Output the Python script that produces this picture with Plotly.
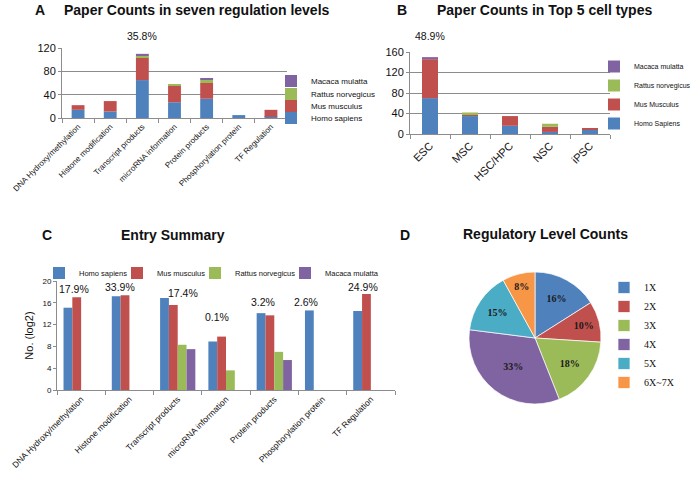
import numpy as np
import plotly.graph_objects as go

W, H = 690, 477
def fx(x):
    return x / W
def fy(y):
    return 1 - y / H

# ---------------- data ----------------
levels = ["DNA Hydroxy/methylation", "Histone modification", "Transcript products",
          "microRNA information", "Protein products", "Phosphorylation protein", "TF Regulation"]
a_homo = [14, 11, 65, 27, 33, 5, 2]
a_mus = [8, 18, 39, 29, 27, 0, 12]
a_rattus = [0, 0, 3, 2, 6, 0, 0]
a_macaca = [0, 0, 3, 0, 2, 0, 0]
a_yticks = [0, 40, 80, 120]
a_note = "35.8%"

cells = ["ESC", "MSC", "HSC/HPC", "NSC", "iPSC"]
b_homo = [70, 35, 16, 4, 8]
b_mus = [76, 4, 19, 10, 2]
b_rattus = [0, 3, 0, 6, 0]
b_macaca = [4, 0, 0, 0, 0]
b_yticks = [0, 40, 80, 120, 160]
b_note = "48.9%"

c_homo = [15.1, 17.2, 16.9, 8.9, 14.1, 14.6, 14.5]
c_mus = [17.0, 17.4, 15.6, 9.8, 13.7, None, 17.6]
c_rattus = [None, None, 8.3, 3.6, 7.0, None, None]
c_macaca = [None, None, 7.5, None, 5.5, None, None]
c_pct = ["17.9%", "33.9%", "17.4%", "0.1%", "3.2%", "2.6%", "24.9%"]
c_yticks = [0, 4, 8, 12, 16, 20]

d_labels = ["1X", "2X", "3X", "4X", "5X", "6X~7X"]
d_values = [16, 10, 18, 33, 15, 8]

species_a = ["Homo sapiens", "Mus musculus", "Rattus norvegicus", "Macaca mulatta"]
species_b = ["Homo Sapiens", "Mus Musculus", "Rattus norvegicus", "Macaca mulatta"]
colors = ["#4F81BD", "#C0504D", "#9BBB59", "#8064A2"]
pie_colors = ["#4F81BD", "#C0504D", "#9BBB59", "#8064A2", "#4BACC6", "#F79646"]

SANS = "Liberation Sans"
SERIF = "Liberation Serif"
GRID = "#8c8c8c"

fig = go.Figure()

# ---------------- panel A (stacked) ----------------
a_series = [a_homo, a_mus, a_rattus, a_macaca]
a_legends = ["legend", "legend2", "legend3", "legend4"]
base = np.zeros(len(levels))
for name, vals, col, lg in zip(species_a, a_series, colors, a_legends):
    v = np.array(vals, dtype=float)
    fig.add_trace(go.Bar(x=levels, y=v, base=base.copy(), name=name, marker_color=col,
                         marker_line_width=0, offsetgroup="a", width=0.4,
                         xaxis="x", yaxis="y", legend=lg))
    base = base + v

# ---------------- panel B (stacked) ----------------
b_series = [b_homo, b_mus, b_rattus, b_macaca]
base = np.zeros(len(cells))
for name, vals, col in zip(species_b, b_series, colors):
    v = np.array(vals, dtype=float)
    fig.add_trace(go.Bar(x=cells, y=v, base=base.copy(), name=name, marker_color=col,
                         marker_line_width=0, offsetgroup="b", width=0.4,
                         xaxis="x2", yaxis="y2", legend="legend5"))
    base = base + v

# ---------------- panel C (grouped) ----------------
c_series = [c_homo, c_mus, c_rattus, c_macaca]
c_legends = ["legend6", "legend7", "legend8", "legend9"]
for i, (name, vals, col, lg) in enumerate(zip(species_a, c_series, colors, c_legends)):
    fig.add_trace(go.Bar(x=levels, y=vals, name=name, marker_color=col,
                         marker_line_width=0, offsetgroup="c%d" % i,
                         xaxis="x3", yaxis="y3", legend=lg))

# ---------------- panel D (pie) ----------------
fig.add_trace(go.Pie(labels=d_labels, values=d_values, sort=False, direction="clockwise",
                     rotation=0, marker=dict(colors=pie_colors, line=dict(color="rgba(255,255,255,0.7)", width=1)),
                     texttemplate="%{percent:.0%}", textposition="inside",
                     insidetextorientation="horizontal",
                     textfont=dict(family=SERIF, size=10, color="#1a1a1a", weight="bold"),
                     domain=dict(x=[fx(469), fx(601)], y=[fy(404), fy(272)]),
                     legend="legend10", hoverinfo="label+percent"))

# ---------------- axes ----------------
xcat = dict(type="category", tickangle=-45, ticks="outside", tickson="boundaries", ticklen=4,
            tickcolor=GRID, showline=True, linecolor=GRID, linewidth=1, showgrid=False,
            tickfont=dict(family=SANS, size=8, color="#111"))
ybase = dict(showline=True, linecolor=GRID, linewidth=1, ticks="outside", ticklen=3, tickcolor=GRID,
             zeroline=False, tickfont=dict(family=SANS, size=11, color="#111"))

layout = dict(
    width=W, height=H, margin=dict(l=0, r=0, t=0, b=0, autoexpand=False),
    paper_bgcolor="white", plot_bgcolor="white", barmode="group", bargap=0.27, bargroupgap=0,
    font=dict(family=SANS, color="#111"),
    xaxis=dict(xcat, domain=[fx(62), fx(287)], anchor="y"),
    yaxis=dict(ybase, domain=[fy(118), fy(48)], anchor="x", range=[0, 120], tickvals=a_yticks,
               showgrid=True, gridcolor=GRID, gridwidth=1),
    xaxis2=dict(xcat, domain=[fx(410), fx(610)], anchor="y2", tickfont=dict(family=SANS, size=11, color="#111")),
    yaxis2=dict(ybase, domain=[fy(134), fy(52)], anchor="x2", range=[0, 160], tickvals=b_yticks,
                showgrid=True, gridcolor=GRID, gridwidth=1),
    xaxis3=dict(xcat, domain=[fx(57), fx(395)], anchor="y3", tickfont=dict(family=SANS, size=8.5, color="#111")),
    yaxis3=dict(ybase, domain=[fy(390), fy(281)], anchor="x3", range=[0, 20], tickvals=c_yticks,
                showgrid=False, tickfont=dict(family=SANS, size=8, color="#111"),
                title=dict(text="No. (log2)", font=dict(family=SANS, size=11, color="#111"), standoff=6)),
    showlegend=True,
)

# legends for A (one per series, stacked vertically, Macaca on top)
a_leg_y = [118, 106, 94, 81]
for lg, yy in zip(a_legends, a_leg_y):
    layout[lg] = dict(x=fx(271), y=fy(yy), xanchor="left", yanchor="middle", bgcolor="rgba(0,0,0,0)",
                      font=dict(family=SANS, size=8, color="#111"))
layout["legend5"] = dict(x=fx(594), y=fy(52), xanchor="left", yanchor="top", traceorder="reversed",
                         bgcolor="rgba(0,0,0,0)", font=dict(family=SANS, size=7, color="#111"))
c_leg_sym = [59, 137, 215, 305]
for lg, xx in zip(c_legends, c_leg_sym):
    layout[lg] = dict(x=fx(xx - 20), y=fy(273), xanchor="left", yanchor="middle", orientation="h",
                      bgcolor="rgba(0,0,0,0)", font=dict(family=SANS, size=7.5, color="#111"))
layout["legend10"] = dict(x=fx(604), y=fy(273), xanchor="left", yanchor="top",
                          bgcolor="rgba(0,0,0,0)", font=dict(family=SERIF, size=10, color="#111"))

fig.update_layout(**layout)

# ---------------- titles & notes ----------------
def ann(text, x, y, size=14, bold=True, anchor="left", family=SANS):
    fig.add_annotation(text=("<b>%s</b>" % text) if bold else text, x=fx(x), y=fy(y),
                       xref="paper", yref="paper", xanchor=anchor, yanchor="middle", showarrow=False,
                       font=dict(family=family, size=size, color="#111"))

ann("A", 33, 10)
ann("Paper Counts in seven regulation levels", 62, 10)
ann("B", 395, 10)
ann("Paper Counts in Top 5 cell types", 435, 10)
ann("C", 40, 235)
ann("Entry Summary", 173, 235, anchor="center")
ann("D", 398, 235)
ann("Regulatory Level Counts", 545, 234, anchor="center")

fig.add_annotation(text=a_note, x=levels[2], y=120, xref="x", yref="y", yanchor="bottom",
                   yshift=4, showarrow=False, font=dict(family=SANS, size=10.5, color="#111"))
fig.add_annotation(text=b_note, x=cells[0], y=160, xref="x2", yref="y2", yanchor="bottom",
                   yshift=8, showarrow=False, font=dict(family=SANS, size=10.5, color="#111"))

c_pct_y = [18.5, 18.9, 17.8, 13.4, 16.1, 16.1, 18.9]
c_pct_dx = [-7, -9, 5, -9, -11, -17, -8]
for cat, txt, yy, dx in zip(levels, c_pct, c_pct_y, c_pct_dx):
    fig.add_annotation(text=txt, x=cat, y=yy, xref="x3", yref="y3", xshift=dx, showarrow=False,
                       font=dict(family=SANS, size=10.5, color="#111"))

# remove the browser's default 8px page margin so the figure sits at the window's top-left corner
fig.write_html("out.html", config={"displayModeBar": False},
               post_script="document.body.style.margin='0px';")
